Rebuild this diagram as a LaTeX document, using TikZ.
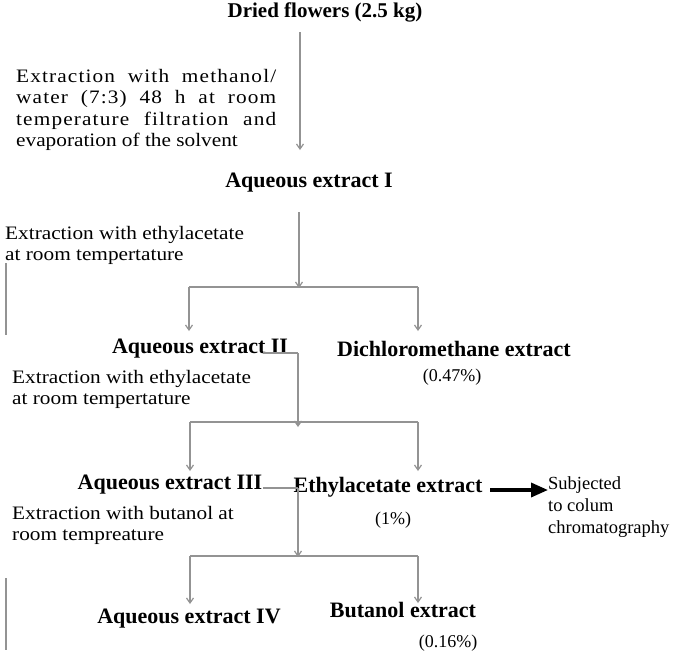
\documentclass[tikz,border=0pt]{standalone}
\usepackage{fontspec}
\setmainfont{Liberation Serif}
\newfontfamily\widefont[FakeStretch=1.12]{Liberation Serif}
\newfontfamily\spacedfont[FakeStretch=1.12,LetterSpace=6]{Liberation Serif}
\usetikzlibrary{arrows.meta}
\begin{document}
\begin{tikzpicture}[x=1pt,y=-1pt,
  title/.style={font=\fontsize{22}{24}\selectfont\bfseries, inner sep=0pt},
  note/.style={font=\fontsize{19}{21.6}\selectfont\widefont, inner sep=0pt, anchor=north west, align=left},
  pct/.style={font=\fontsize{18}{20}\selectfont, inner sep=0pt},
  line/.style={draw=gray!85, line width=1.2pt},
  arr/.style={line, -{Straight Barb[length=5pt,width=7pt]}},
  bigarr/.style={draw=black, line width=3.5pt, -{Triangle[length=17pt,width=14pt]}},
]
\useasboundingbox (0,0) rectangle (675,657);

% main nodes
\node[title, font=\fontsize{21}{24}\selectfont\bfseries] (dried) at (325,12) {Dried flowers (2.5 kg)};
\node[title] (aq1) at (309,183) {Aqueous extract I};
\node[title] (aq2) at (200,349) {Aqueous extract II};
\node[title] (dcm) at (454,349) {Dichloromethane extract};
\node[title] (aq3) at (170,485) {Aqueous extract III};
\node[title] (ea) at (388,487) {Ethylacetate extract};
\node[title] (aq4) at (189,619) {Aqueous extract IV};
\node[title] (bu) at (403,610) {Butanol extract};

\node[pct] (p1) at (452,377) {(0.47\%)};
\node[pct] (p2) at (393,520) {(1\%)};
\node[pct] (p3) at (448,643) {(0.16\%)};

\node[font=\fontsize{18.5}{22}\selectfont, inner sep=0pt, anchor=north west, align=left] (sub) at (548,476) {Subjected\\to colum\\chromatography};

% notes
\node[inner sep=0pt, anchor=west, font=\fontsize{19}{21.6}\selectfont] (n1) at (16,110) {%
  \parbox{260pt}{%
  \makebox[260pt][s]{\spacedfont Extraction with methanol/}\\
  \makebox[260pt][s]{\spacedfont water (7:3) 48 h at room}\\
  \makebox[260pt][s]{\spacedfont temperature filtration and}\\
  {\widefont evaporation of the solvent}}};
\node[note] (n2) at (5,226) {Extraction with ethylacetate\\at room tempertature};
\node[note] (n3) at (12,370) {Extraction with ethylacetate\\at room tempertature};
\node[note] (n4) at (12,506) {Extraction with butanol at\\room tempreature};

% coordinates for connectors
\coordinate (s0) at (300,32);
\coordinate (e0) at (300,150);
\coordinate (s1) at (299,212);
\coordinate (j1) at (299,287);
\coordinate (l1) at (189,287);
\coordinate (r1) at (418,287);
\coordinate (u2) at (263,353);
\coordinate (k2) at (298,353);
\coordinate (j2) at (298,422);
\coordinate (l2) at (190,422);
\coordinate (r2) at (418,422);
\coordinate (u3) at (263,488);
\coordinate (k3) at (298,488);
\coordinate (j3) at (298,556);
\coordinate (l3) at (190,556);
\coordinate (r3) at (418,556);
\coordinate (v1a) at (6,263);
\coordinate (v1b) at (6,335);
\coordinate (v2a) at (6,578);
\coordinate (v2b) at (6,650);
\coordinate (ba) at (490,490);
\coordinate (bb) at (548,490);

\draw[arr] (s0) -- (e0);
\draw[arr] (s1) -- ([yshift=-1pt]j1);
\draw[line] (l1) -- (r1);
\draw[arr] (l1) -- ++(0,44);
\draw[arr] (r1) -- ++(0,44);

\draw[line] (u2) -- (k2);
\draw[arr] (k2) -- ([yshift=-5pt]j2);
\draw[line] (l2) -- (r2);
\draw[arr] (l2) -- ++(0,49);
\draw[arr] (r2) -- ++(0,49);

\draw[line] (u3) -- (k3);
\draw[arr] (k3) -- ([yshift=-1pt]j3);
\draw[line] (l3) -- (r3);
\draw[arr] (l3) -- ++(0,48);
\draw[arr] (r3) -- ++(0,47);

\draw[line] (v1a) -- (v1b);
\draw[line] (v2a) -- (v2b);

\draw[bigarr] (ba) -- (bb);
\end{tikzpicture}
\end{document}
